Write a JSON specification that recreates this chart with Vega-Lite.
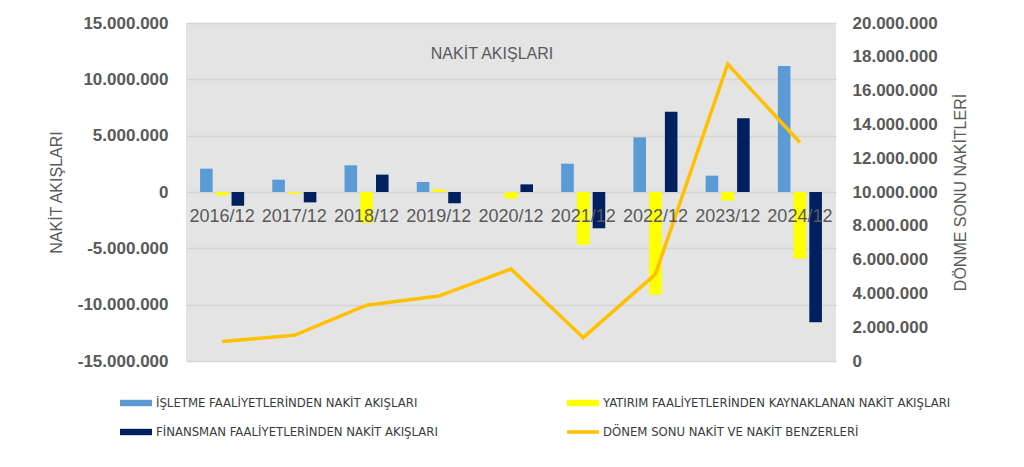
{
  "$schema": "https://vega.github.io/schema/vega-lite/v6.json",
  "width": 650,
  "height": 338,
  "autosize": {"type": "none"},
  "padding": {"left": 186, "top": 23, "right": 188, "bottom": 106},
  "background": "white",
  "title": {
    "text": "NAKİT AKIŞLARI",
    "anchor": "middle",
    "dy": 52,
    "dx": -19,
    "fontSize": 16,
    "fontWeight": "normal",
    "color": "#595959",
    "font": "Liberation Sans"
  },
  "data": {
    "values": [
      {"year": "2016/12", "series": "İŞLETME FAALİYETLERİNDEN NAKİT AKIŞLARI", "value": 2070000},
      {"year": "2016/12", "series": "YATIRIM FAALİYETLERİNDEN KAYNAKLANAN NAKİT AKIŞLARI", "value": -300000},
      {"year": "2016/12", "series": "FİNANSMAN FAALİYETLERİNDEN NAKİT AKIŞLARI", "value": -1210000},
      {"year": "2016/12", "series": "DÖNEM SONU NAKİT VE NAKİT BENZERLERİ", "value": 1150000},
      {"year": "2017/12", "series": "İŞLETME FAALİYETLERİNDEN NAKİT AKIŞLARI", "value": 1090000},
      {"year": "2017/12", "series": "YATIRIM FAALİYETLERİNDEN KAYNAKLANAN NAKİT AKIŞLARI", "value": -150000},
      {"year": "2017/12", "series": "FİNANSMAN FAALİYETLERİNDEN NAKİT AKIŞLARI", "value": -920000},
      {"year": "2017/12", "series": "DÖNEM SONU NAKİT VE NAKİT BENZERLERİ", "value": 1520000},
      {"year": "2018/12", "series": "İŞLETME FAALİYETLERİNDEN NAKİT AKIŞLARI", "value": 2370000},
      {"year": "2018/12", "series": "YATIRIM FAALİYETLERİNDEN KAYNAKLANAN NAKİT AKIŞLARI", "value": -2750000},
      {"year": "2018/12", "series": "FİNANSMAN FAALİYETLERİNDEN NAKİT AKIŞLARI", "value": 1540000},
      {"year": "2018/12", "series": "DÖNEM SONU NAKİT VE NAKİT BENZERLERİ", "value": 3300000},
      {"year": "2019/12", "series": "İŞLETME FAALİYETLERİNDEN NAKİT AKIŞLARI", "value": 890000},
      {"year": "2019/12", "series": "YATIRIM FAALİYETLERİNDEN KAYNAKLANAN NAKİT AKIŞLARI", "value": 240000},
      {"year": "2019/12", "series": "FİNANSMAN FAALİYETLERİNDEN NAKİT AKIŞLARI", "value": -1000000},
      {"year": "2019/12", "series": "DÖNEM SONU NAKİT VE NAKİT BENZERLERİ", "value": 3840000},
      {"year": "2020/12", "series": "İŞLETME FAALİYETLERİNDEN NAKİT AKIŞLARI", "value": 0},
      {"year": "2020/12", "series": "YATIRIM FAALİYETLERİNDEN KAYNAKLANAN NAKİT AKIŞLARI", "value": -600000},
      {"year": "2020/12", "series": "FİNANSMAN FAALİYETLERİNDEN NAKİT AKIŞLARI", "value": 680000},
      {"year": "2020/12", "series": "DÖNEM SONU NAKİT VE NAKİT BENZERLERİ", "value": 5440000},
      {"year": "2021/12", "series": "İŞLETME FAALİYETLERİNDEN NAKİT AKIŞLARI", "value": 2510000},
      {"year": "2021/12", "series": "YATIRIM FAALİYETLERİNDEN KAYNAKLANAN NAKİT AKIŞLARI", "value": -4670000},
      {"year": "2021/12", "series": "FİNANSMAN FAALİYETLERİNDEN NAKİT AKIŞLARI", "value": -3220000},
      {"year": "2021/12", "series": "DÖNEM SONU NAKİT VE NAKİT BENZERLERİ", "value": 1380000},
      {"year": "2022/12", "series": "İŞLETME FAALİYETLERİNDEN NAKİT AKIŞLARI", "value": 4850000},
      {"year": "2022/12", "series": "YATIRIM FAALİYETLERİNDEN KAYNAKLANAN NAKİT AKIŞLARI", "value": -9110000},
      {"year": "2022/12", "series": "FİNANSMAN FAALİYETLERİNDEN NAKİT AKIŞLARI", "value": 7130000},
      {"year": "2022/12", "series": "DÖNEM SONU NAKİT VE NAKİT BENZERLERİ", "value": 5140000},
      {"year": "2023/12", "series": "İŞLETME FAALİYETLERİNDEN NAKİT AKIŞLARI", "value": 1450000},
      {"year": "2023/12", "series": "YATIRIM FAALİYETLERİNDEN KAYNAKLANAN NAKİT AKIŞLARI", "value": -770000},
      {"year": "2023/12", "series": "FİNANSMAN FAALİYETLERİNDEN NAKİT AKIŞLARI", "value": 6540000},
      {"year": "2023/12", "series": "DÖNEM SONU NAKİT VE NAKİT BENZERLERİ", "value": 17570000},
      {"year": "2024/12", "series": "İŞLETME FAALİYETLERİNDEN NAKİT AKIŞLARI", "value": 11180000},
      {"year": "2024/12", "series": "YATIRIM FAALİYETLERİNDEN KAYNAKLANAN NAKİT AKIŞLARI", "value": -5920000},
      {"year": "2024/12", "series": "FİNANSMAN FAALİYETLERİNDEN NAKİT AKIŞLARI", "value": -11570000},
      {"year": "2024/12", "series": "DÖNEM SONU NAKİT VE NAKİT BENZERLERİ", "value": 12930000}
    ]
  },
  "encoding": {
    "x": {
      "field": "year",
      "type": "ordinal",
      "sort": null,
      "scale": {"paddingInner": 0.39, "paddingOuter": 0.195},
      "axis": {
        "title": null,
        "orient": "bottom",
        "offset": -169,
        "zindex": 1,
        "labelAngle": 0,
        "ticks": false,
        "domain": false,
        "grid": false,
        "labelFont": "Liberation Sans",
        "labelFontSize": 18,
        "labelColor": "#595959",
        "labelPadding": 15,
        "labelOverlap": false
      }
    },
    "color": {
      "field": "series",
      "type": "nominal",
      "scale": {
        "domain": [
          "İŞLETME FAALİYETLERİNDEN NAKİT AKIŞLARI",
          "FİNANSMAN FAALİYETLERİNDEN NAKİT AKIŞLARI",
          "YATIRIM FAALİYETLERİNDEN KAYNAKLANAN NAKİT AKIŞLARI",
          "DÖNEM SONU NAKİT VE NAKİT BENZERLERİ"
        ],
        "range": ["#5B9BD5", "#002060", "#FFFF00", "#FFC000"]
      },
      "legend": {
        "orient": "none",
        "legendX": -58,
        "legendY": 372,
        "columns": 2,
        "title": null,
        "padding": 0,
        "labelFont": "Liberation Sans Narrow, DejaVu Sans Condensed, sans-serif",
        "labelFontSize": 13,
        "labelColor": "#3a3a3a",
        "labelLimit": 500,
        "labelOffset": 12,
        "symbolSize": 256,
        "symbolType": "M-2,-0.4H2V0.4H-2Z",
        "columnPadding": 129,
        "rowPadding": 14,
        "encode": {
          "symbols": {
            "update": {
              "shape": {"signal": "datum.value === 'DÖNEM SONU NAKİT VE NAKİT BENZERLERİ' ? 'M-2,-0.22H2V0.22H-2Z' : 'M-2,-0.4H2V0.4H-2Z'"},
              "fill": {"scale": "color", "field": "value"},
              "strokeWidth": {"value": 0}
            }
          }
        }
      }
    }
  },
  "layer": [
    {
      "transform": [{"filter": "datum.series !== 'DÖNEM SONU NAKİT VE NAKİT BENZERLERİ'"}],
      "mark": {"type": "bar"},
      "encoding": {
        "xOffset": {
          "field": "series",
          "type": "nominal",
          "sort": [
            "İŞLETME FAALİYETLERİNDEN NAKİT AKIŞLARI",
            "YATIRIM FAALİYETLERİNDEN KAYNAKLANAN NAKİT AKIŞLARI",
            "FİNANSMAN FAALİYETLERİNDEN NAKİT AKIŞLARI"
          ],
          "scale": {"paddingInner": 0.2, "paddingOuter": 0}
        },
        "y": {
          "field": "value",
          "type": "quantitative",
          "scale": {"domain": [-15000000, 15000000], "nice": false},
          "axis": {
            "title": "NAKİT AKIŞLARI",
            "orient": "left",
            "values": [-15000000, -10000000, -5000000, 0, 5000000, 10000000, 15000000],
            "format": ",.0f",
            "grid": true,
            "gridColor": "#d4d4d4",
            "gridWidth": 1.5,
            "domain": false,
            "ticks": false,
            "labelPadding": 18,
            "labelFont": "Liberation Sans",
            "labelFontSize": 17,
            "labelFontWeight": "bold",
            "labelColor": "#595959",
            "titleFont": "Liberation Sans",
            "titleFontSize": 16,
            "titleFontWeight": "normal",
            "titleColor": "#595959",
            "titlePadding": 13
          }
        }
      }
    },
    {
      "transform": [{"filter": "datum.series === 'DÖNEM SONU NAKİT VE NAKİT BENZERLERİ'"}],
      "mark": {"type": "line", "strokeWidth": 3.5, "strokeJoin": "miter"},
      "encoding": {
        "y": {
          "field": "value",
          "type": "quantitative",
          "scale": {"domain": [0, 20000000], "nice": false},
          "axis": {
            "title": "DÖNME SONU NAKİTLERİ",
            "orient": "right",
            "values": [0, 2000000, 4000000, 6000000, 8000000, 10000000, 12000000, 14000000, 16000000, 18000000, 20000000],
            "format": ",.0f",
            "grid": false,
            "domain": false,
            "ticks": false,
            "labelPadding": 16,
            "labelFont": "Liberation Sans",
            "labelFontSize": 17,
            "labelFontWeight": "bold",
            "labelColor": "#595959",
            "titleFont": "Liberation Sans",
            "titleFontSize": 16,
            "titleFontWeight": "normal",
            "titleColor": "#595959",
            "titleAngle": 270,
            "titleBaseline": "top",
            "titlePadding": 15
          }
        }
      }
    }
  ],
  "resolve": {"scale": {"y": "independent"}},
  "config": {
    "locale": {
      "number": {"decimal": ",", "thousands": ".", "grouping": [3], "currency": ["", ""], "minus": "-"}
    },
    "view": {"fill": "#e4e4e4", "stroke": null},
    "font": "Liberation Sans"
  }
}
